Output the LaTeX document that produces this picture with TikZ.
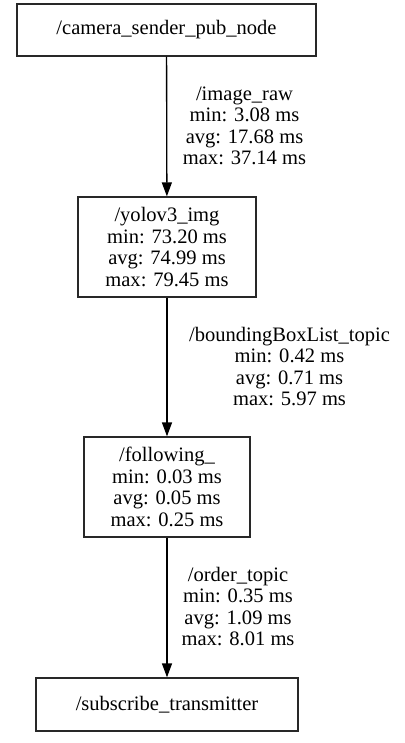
\documentclass[tikz,border=0pt]{standalone}
\usepackage{fontspec}
\setmainfont{Liberation Serif}
\usepackage{tikz}
\usetikzlibrary{arrows.meta, positioning}
\definecolor{boxframe}{RGB}{40,40,40}
\tikzset{
  rosnode/.style={rectangle, draw=boxframe, line width=1pt,
    align=center, inner sep=0pt, font=\fontsize{15.4}{16.1}\selectfont},
  toplbl/.style={align=center, inner sep=0pt, font=\fontsize{15.4}{16.1}\selectfont},
  arrow/.style={-{Triangle[length=10.5pt,width=7.5pt]}, line width=1pt, color=black}
}
\begin{document}
\begin{tikzpicture}[x=0.75pt, y=-0.75pt]
\useasboundingbox (0,0) rectangle (404,743);
% nodes
\node[rosnode, minimum width=224.25pt, minimum height=39pt] (cam) at (166.5,30) {/camera\_sender\_pub\_node};
\node[rosnode, minimum width=133.5pt, minimum height=75pt] (yolo) at (167,247)
  {/yolov3\_img\\min: 73.20 ms\\avg: 74.99 ms\\max: 79.45 ms};
\node[rosnode, minimum width=124.5pt, minimum height=75pt] (follow) at (167,487)
  {/following\_\\min: 0.03 ms\\avg: 0.05 ms\\max: 0.25 ms};
\node[rosnode, minimum width=196.5pt, minimum height=39.75pt] (trans) at (167,704.5) {/subscribe\_transmitter};
% topics
\draw[arrow] (cam) -- (yolo);
\draw[arrow] (yolo) -- (follow);
\draw[arrow] (follow) -- (trans);
\node[toplbl] (imgraw) at (244.5,126) {/image\_raw\\min: 3.08 ms\\avg: 17.68 ms\\max: 37.14 ms};
\node[toplbl] (bbox) at (289.5,366.5) {/boundingBoxList\_topic\\min: 0.42 ms\\avg: 0.71 ms\\max: 5.97 ms};
\node[toplbl] (order) at (238,606.5) {/order\_topic\\min: 0.35 ms\\avg: 1.09 ms\\max: 8.01 ms};
\end{tikzpicture}
\end{document}
